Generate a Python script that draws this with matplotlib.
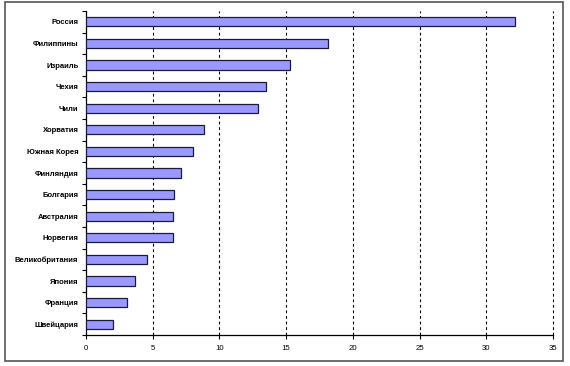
import matplotlib
matplotlib.use("Agg")
import matplotlib.pyplot as plt
import numpy as np
from matplotlib.patches import Rectangle

countries = ["Россия", "Филиппины", "Израиль", "Чехия", "Чили", "Хорватия",
             "Южная Корея", "Финляндия", "Болгария", "Австралия", "Норвегия",
             "Великобритания", "Япония", "Франция", "Швейцария"]
values = [32.15, 18.1, 15.3, 13.5, 12.9, 8.85, 8.05, 7.1, 6.58, 6.55, 6.55,
          4.58, 3.65, 3.1, 2.05]
xticks = [0, 5, 10, 15, 20, 25, 30, 35]

W, H = 570, 366
fig = plt.figure(figsize=(W / 100, H / 100), dpi=100)
fig.patch.set_facecolor("white")

# outer frame
fig.patches.append(Rectangle((5 / W, 1 - 361 / H), (563 - 5) / W, (361 - 2) / H,
                             transform=fig.transFigure, fill=False,
                             edgecolor="#555555", linewidth=1.2))

left, right, top, bottom = 86, 553, 11, 335
ax = fig.add_axes([left / W, 1 - bottom / H, (right - left) / W, (bottom - top) / H])

n = len(countries)
y = np.arange(n)
ax.barh(y, values, height=0.42, color="#9999FF", edgecolor="#1a1a40", linewidth=0.9, zorder=3)

ax.set_xlim(0, 35)
ax.set_ylim(n - 0.5, -0.5)
ax.set_xticks(xticks)
ax.set_xticklabels([str(v) for v in xticks], fontsize=5.6, family="Liberation Sans")
ax.set_yticks(y)
ax.set_yticklabels(countries, fontsize=5.5, fontweight="bold", family="Liberation Sans")
ax.set_yticks(np.arange(n + 1) - 0.5, minor=True)
ax.tick_params(axis="y", which="major", length=0, pad=5.5)
ax.tick_params(axis="y", which="minor", length=3, width=0.8)
ax.tick_params(axis="x", which="major", length=3, width=0.8, pad=4)

for xv in xticks[1:]:
    ax.axvline(xv, color="black", linestyle=(0, (2.5, 2.5)), linewidth=0.8,
               zorder=1, clip_on=False)

ax.spines["top"].set_visible(False)
ax.spines["right"].set_visible(False)
ax.spines["left"].set_linewidth(0.9)
ax.spines["bottom"].set_linewidth(0.9)

fig.savefig("out.png", dpi=100)
